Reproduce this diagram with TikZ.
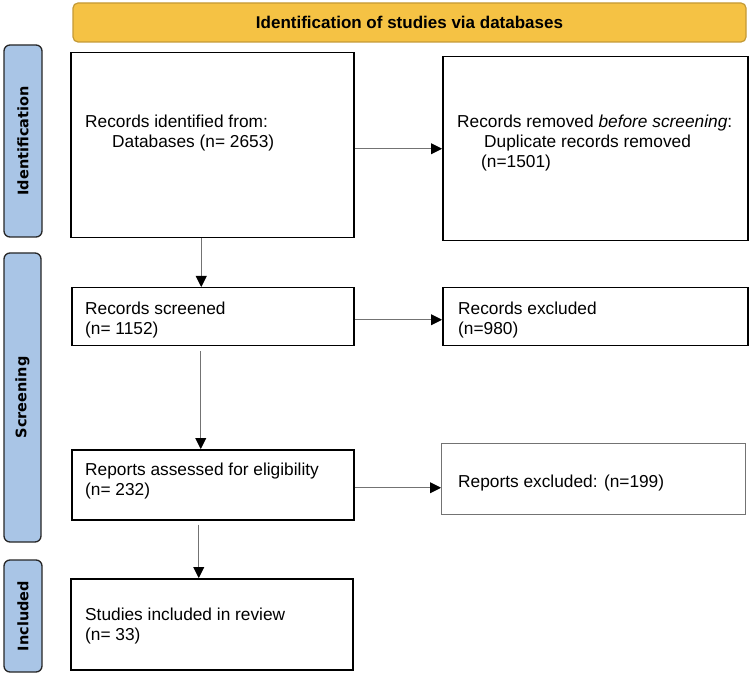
\documentclass[tikz,border=0pt]{standalone}
\usepackage{fontspec}
\setmainfont{Liberation Sans}
\newfontfamily\stagefont{DejaVu Sans}
\usetikzlibrary{arrows.meta,positioning}
\definecolor{bannerfill}{HTML}{F5C244}
\definecolor{bannerdraw}{HTML}{C49A36}
\definecolor{stagefill}{HTML}{A9C5E6}
\tikzset{
  recbox/.style    = {draw, line width=1.5pt, fill=white, inner sep=0pt, anchor=north west},
  softbox/.style   = {recbox, draw=black!55, line width=1.1pt},
  stagebar/.style  = {draw=black!85, line width=1.3pt, rounded corners=6pt, fill=stagefill,
                      inner sep=0pt, rotate=90, font=\stagefont\bfseries\fontsize{14.5}{16}\selectfont},
  bannerbox/.style = {draw=bannerdraw, line width=1.2pt, rounded corners=5pt, fill=bannerfill,
                      inner sep=0pt, font=\bfseries\fontsize{17}{20}\selectfont},
  boxtext/.style   = {font=\fontsize{17.3}{20}\selectfont, align=left, anchor=north west, inner sep=0pt},
  flow/.style      = {-{Triangle[length=11pt,width=11pt,color=black]}, draw=black!55, line width=0.9pt},
}

\begin{document}
\begin{tikzpicture}[x=1pt,y=-1pt]
  \useasboundingbox (0,0) rectangle (750,676);

  % stage bars and banner
  \node[stagebar, minimum width=192pt, minimum height=38pt] (identbar) at (23,141) {Identification};
  \node[stagebar, minimum width=289pt, minimum height=37pt] (screenbar) at (22.5,397.5) {Screening};
  \node[stagebar, minimum width=112pt, minimum height=38pt] (inclbar) at (23,616) {Included};
  \node[bannerbox, minimum width=673pt, minimum height=39pt] (banner) at (409.5,22.5)
       {Identification of studies via databases};

  % boxes
  \node[recbox, minimum width=283pt, minimum height=185pt] (records) at (70,52) {};
  \node[recbox, minimum width=305pt, minimum height=184pt] (removed) at (442,56) {};
  \node[recbox, minimum width=282pt, minimum height=58pt] (screened) at (71,287) {};
  \node[recbox, minimum width=305pt, minimum height=58pt] (excluded) at (442,287) {};
  \node[recbox, minimum width=282pt, minimum height=70pt] (assessed) at (71,449) {};
  \node[softbox, minimum width=304pt, minimum height=71pt] (rexcluded) at (441,443) {};
  \node[recbox, minimum width=282pt, minimum height=91pt] (included) at (70,578) {};

  % texts
  \node[boxtext] (recordstxt) at (85,115)
       {Records identified from:\\\hspace*{27pt}Databases (n= 2653)};
  \node[boxtext] (removedtxt) at (457,115)
       {Records removed \textit{before screening}:\\\hspace*{27pt}Duplicate records removed\\\hspace*{24pt}(n=1501)};
  \node[boxtext] (screenedtxt) at (85,302) {Records screened\\(n= 1152)};
  \node[boxtext] (excludedtxt) at (458,302) {Records excluded\\(n=980)};
  \node[boxtext] (assessedtxt) at (85,463) {Reports assessed for eligibility\\(n= 232)};
  \node[boxtext] (rexcludedtxt) at (458,475) {Reports excluded: (n=199)};
  \node[boxtext] (includedtxt) at (85,608) {Studies included in review\\(n= 33)};

  % connectors
  \draw[flow] ([xshift=-11pt]records.south) -- ([xshift=-11.5pt]screened.north);
  \draw[flow] (records.east |- removed.west) -- (removed.west);
  \draw[flow] ([yshift=-3pt]screened.east) -- ([yshift=-3pt]excluded.west);
  \draw[flow] ([xshift=-12pt,yshift=-5pt]screened.south) -- ([xshift=-12pt]assessed.north);
  \coordinate (assessedout) at ([yshift=-3pt]assessed.east);
  \draw[flow] (assessedout) -- (assessedout -| rexcluded.west);
  \draw[flow] ([xshift=-14pt,yshift=-4pt]assessed.south) -- ([xshift=-13pt]included.north);
\end{tikzpicture}
\end{document}
